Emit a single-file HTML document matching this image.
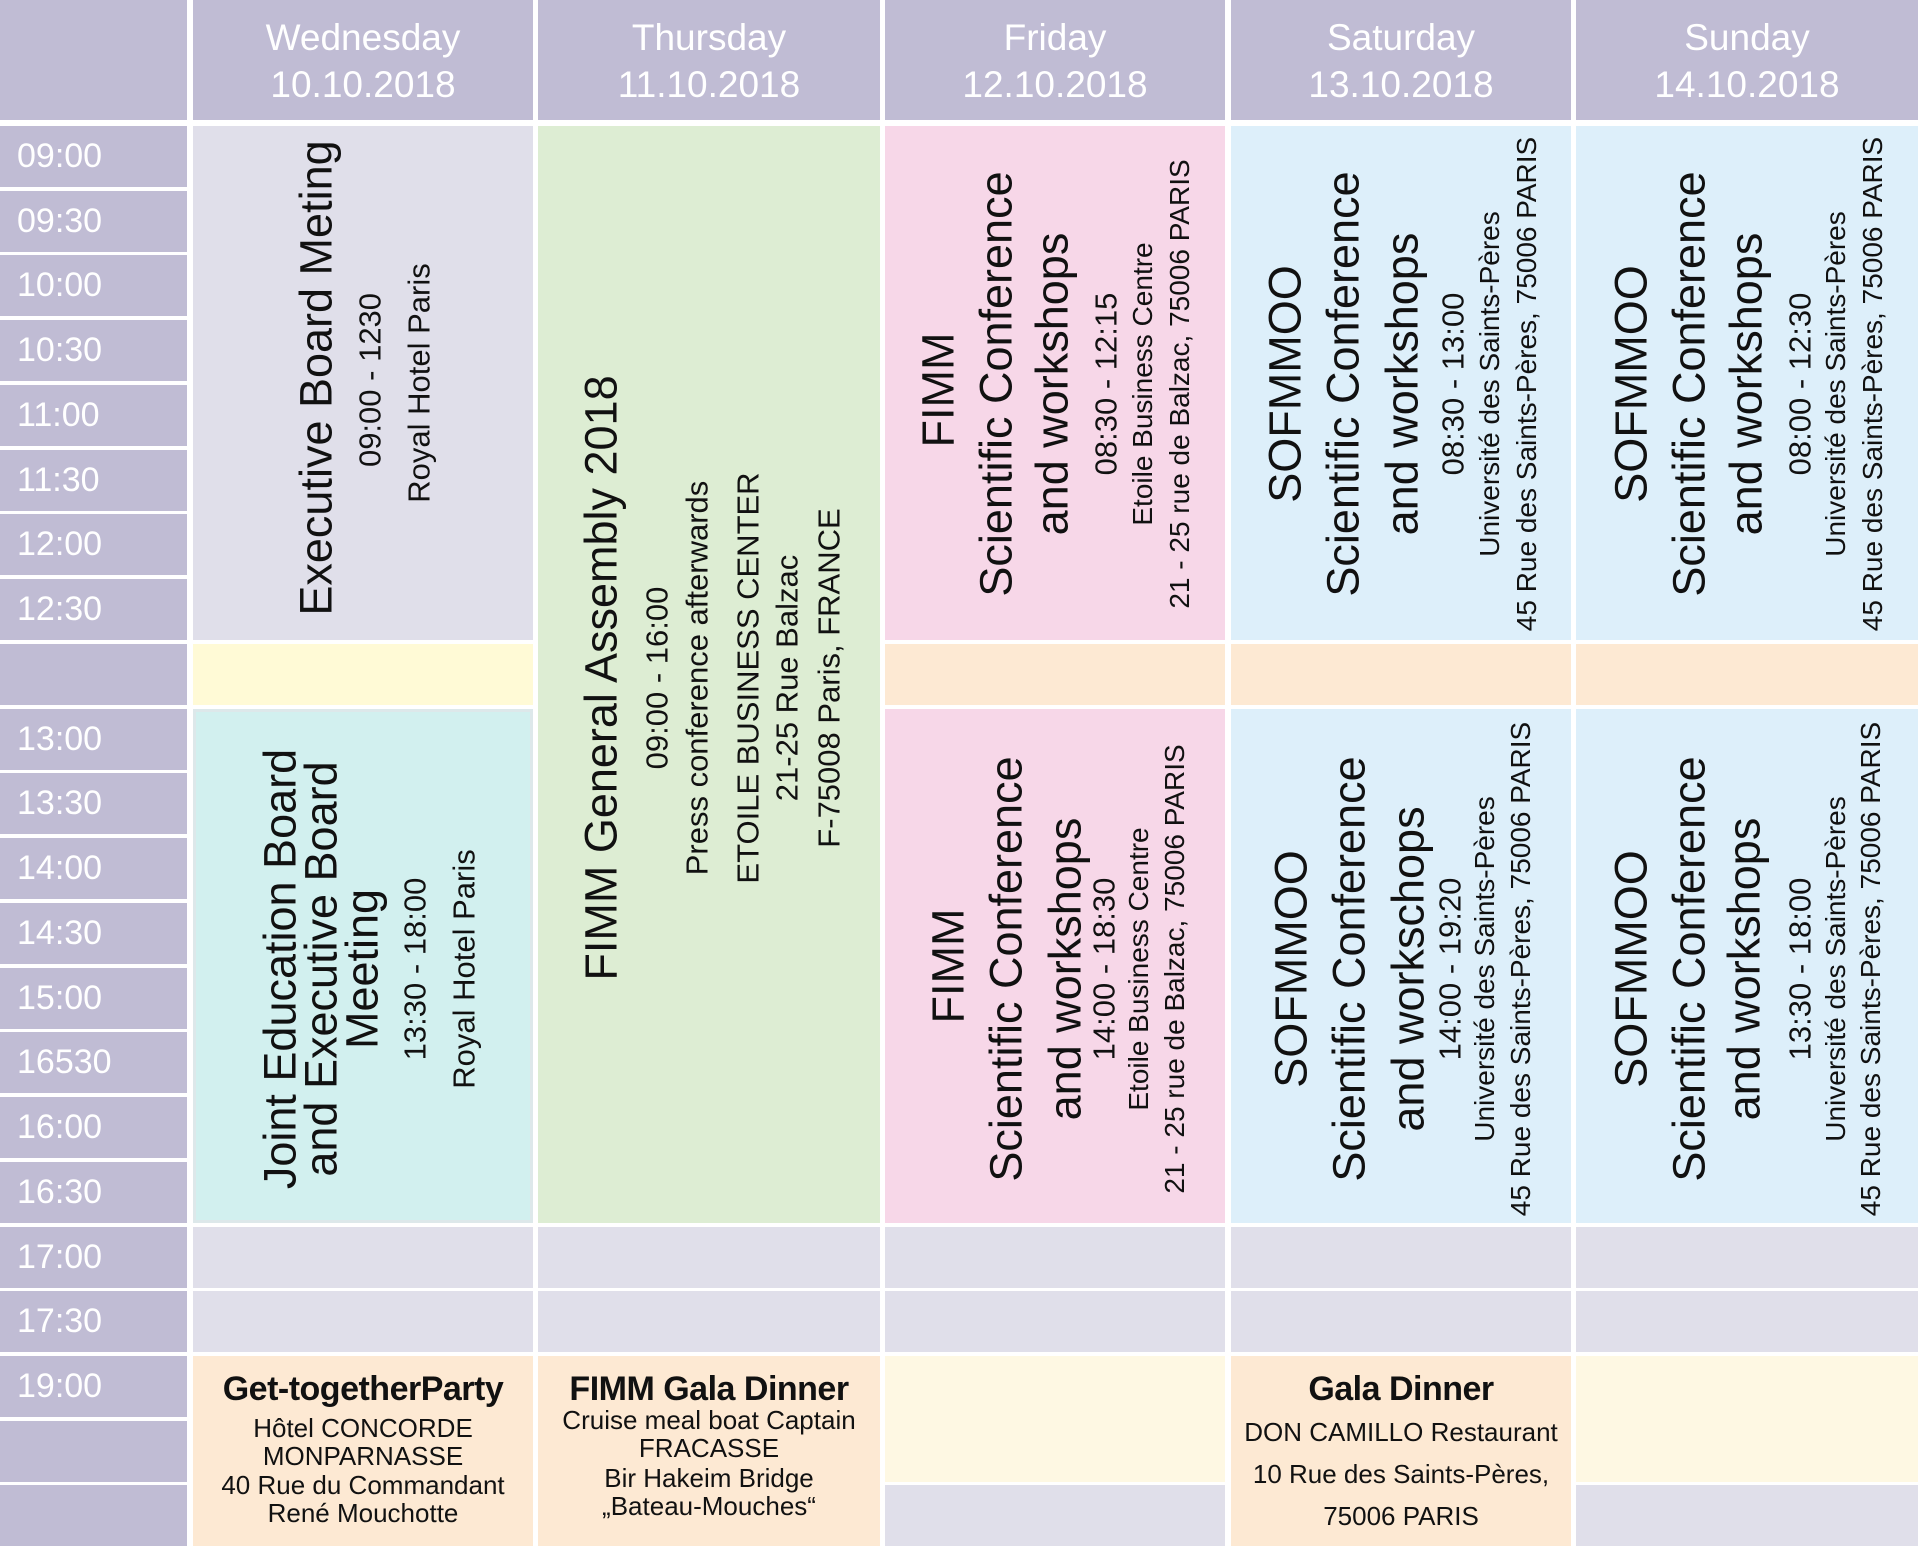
<!DOCTYPE html>
<html><head><meta charset="utf-8">
<style>
html,body{margin:0;padding:0;background:#fff;}
#p{position:relative;width:1918px;height:1552px;overflow:hidden;background:#fff;font-family:"Liberation Sans",sans-serif;color:#111;}
.b{position:absolute;}
.h{background:#c0bcd4;color:#fff;text-align:center;font-size:37px;line-height:47px;padding-top:14px;box-sizing:border-box;}
.t{background:#c0bcd4;color:#fff;font-size:34px;box-sizing:border-box;padding-left:17px;line-height:61px;left:0;width:187px;height:61px;}
.lav{background:#e0dfea;} .yel{background:#fffad6;} .cy{background:#d2f0ef;} .gr{background:#ddedd3;}
.pk{background:#f7d7e8;} .bl{background:#ddeffa;} .pe{background:#fde9d3;} .ly{background:#fef8e3;}
.v{position:absolute;transform:translate(-50%,-50%) rotate(-90deg);white-space:nowrap;line-height:1;}
.L{font-size:45px;} .S{font-size:28px;} .M{font-size:31px;} .T{font-size:31px;}
.c{position:absolute;transform:translate(-50%,-50%);white-space:nowrap;line-height:1;font-size:26px;}
.bold{font-weight:bold;font-size:34px;letter-spacing:-0.5px;}
</style></head><body><div id="p">
<div class="b h" style="left:0;top:0;width:187px;height:120px"></div>
<div class="b h" style="left:193px;top:0;width:340px;height:120px">Wednesday<br>10.10.2018</div>
<div class="b h" style="left:538px;top:0;width:342px;height:120px">Thursday<br>11.10.2018</div>
<div class="b h" style="left:885px;top:0;width:340px;height:120px">Friday<br>12.10.2018</div>
<div class="b h" style="left:1231px;top:0;width:340px;height:120px">Saturday<br>13.10.2018</div>
<div class="b h" style="left:1576px;top:0;width:342px;height:120px">Sunday<br>14.10.2018</div>
<div class="b t" style="top:126px">09:00</div>
<div class="b t" style="top:191px">09:30</div>
<div class="b t" style="top:255px">10:00</div>
<div class="b t" style="top:320px">10:30</div>
<div class="b t" style="top:385px">11:00</div>
<div class="b t" style="top:450px">11:30</div>
<div class="b t" style="top:514px">12:00</div>
<div class="b t" style="top:579px">12:30</div>
<div class="b t" style="top:644px"></div>
<div class="b t" style="top:709px">13:00</div>
<div class="b t" style="top:773px">13:30</div>
<div class="b t" style="top:838px">14:00</div>
<div class="b t" style="top:903px">14:30</div>
<div class="b t" style="top:968px">15:00</div>
<div class="b t" style="top:1032px">16530</div>
<div class="b t" style="top:1097px">16:00</div>
<div class="b t" style="top:1162px">16:30</div>
<div class="b t" style="top:1227px">17:00</div>
<div class="b t" style="top:1291px">17:30</div>
<div class="b t" style="top:1356px">19:00</div>
<div class="b t" style="top:1421px"></div>
<div class="b t" style="top:1485px"></div>
<div class="b lav" style="left:193px;top:126px;width:340px;height:514px"></div>
<div class="b yel" style="left:193px;top:644px;width:340px;height:61px"></div>
<div class="b cy" style="left:193px;top:709px;width:340px;height:514px;box-shadow:inset 0 0 0 3px #dde8ea"></div>
<div class="b lav" style="left:193px;top:1227px;width:340px;height:61px"></div>
<div class="b lav" style="left:193px;top:1291px;width:340px;height:61px"></div>
<div class="b pe" style="left:193px;top:1356px;width:340px;height:190px"></div>
<div class="b gr" style="left:538px;top:126px;width:342px;height:1097px"></div>
<div class="b lav" style="left:538px;top:1227px;width:342px;height:61px"></div>
<div class="b lav" style="left:538px;top:1291px;width:342px;height:61px"></div>
<div class="b pe" style="left:538px;top:1356px;width:342px;height:190px"></div>
<div class="b pk" style="left:885px;top:126px;width:340px;height:514px"></div>
<div class="b pe" style="left:885px;top:644px;width:340px;height:61px"></div>
<div class="b pk" style="left:885px;top:709px;width:340px;height:514px"></div>
<div class="b lav" style="left:885px;top:1227px;width:340px;height:61px"></div>
<div class="b lav" style="left:885px;top:1291px;width:340px;height:61px"></div>
<div class="b ly" style="left:885px;top:1356px;width:340px;height:126px"></div>
<div class="b lav" style="left:885px;top:1485px;width:340px;height:61px"></div>
<div class="b bl" style="left:1231px;top:126px;width:340px;height:514px"></div>
<div class="b pe" style="left:1231px;top:644px;width:340px;height:61px"></div>
<div class="b bl" style="left:1231px;top:709px;width:340px;height:514px"></div>
<div class="b lav" style="left:1231px;top:1227px;width:340px;height:61px"></div>
<div class="b lav" style="left:1231px;top:1291px;width:340px;height:61px"></div>
<div class="b pe" style="left:1231px;top:1356px;width:340px;height:190px"></div>
<div class="b bl" style="left:1576px;top:126px;width:342px;height:514px"></div>
<div class="b pe" style="left:1576px;top:644px;width:342px;height:61px"></div>
<div class="b bl" style="left:1576px;top:709px;width:342px;height:514px"></div>
<div class="b lav" style="left:1576px;top:1227px;width:342px;height:61px"></div>
<div class="b lav" style="left:1576px;top:1291px;width:342px;height:61px"></div>
<div class="b ly" style="left:1576px;top:1356px;width:342px;height:126px"></div>
<div class="b lav" style="left:1576px;top:1485px;width:342px;height:61px"></div>

<div class="v L" style="left:316px;top:378px">Executive Board Meting</div>
<div class="v T" style="left:370px;top:380px">09:00 - 1230</div>
<div class="v M" style="left:419px;top:383px">Royal Hotel Paris</div>
<div class="v L" style="left:280px;top:969px">Joint Education Board</div>
<div class="v L" style="left:321px;top:969px">and Executive Board</div>
<div class="v L" style="left:362px;top:969px">Meeting</div>
<div class="v T" style="left:415px;top:969px">13:30 - 18:00</div>
<div class="v M" style="left:464px;top:969px">Royal Hotel Paris</div>
<div class="v L" style="left:601px;top:678px">FIMM General Assembly 2018</div>
<div class="v T" style="left:657px;top:678px">09:00 - 16:00</div>
<div class="v M" style="left:697px;top:678px">Press conference afterwards</div>
<div class="v M" style="left:748px;top:678px">ETOILE BUSINESS CENTER</div>
<div class="v M" style="left:787px;top:678px">21-25 Rue Balzac</div>
<div class="v M" style="left:829px;top:678px">F-75008 Paris, FRANCE</div>
<div class="v L" style="left:938px;top:390px">FIMM</div>
<div class="v L" style="left:996px;top:384px">Scientific Conference</div>
<div class="v L" style="left:1052px;top:384px">and workshops</div>
<div class="v T" style="left:1106px;top:384px">08:30 - 12:15</div>
<div class="v S" style="left:1143px;top:384px">Etoile Business Centre</div>
<div class="v S" style="left:1180px;top:384px">21 - 25 rue de Balzac, 75006 PARIS</div>
<div class="v L" style="left:948px;top:966px">FIMM</div>
<div class="v L" style="left:1006px;top:969px">Scientific Conference</div>
<div class="v L" style="left:1065px;top:969px">and workshops</div>
<div class="v T" style="left:1104px;top:969px">14:00 - 18:30</div>
<div class="v S" style="left:1139px;top:969px">Etoile Business Centre</div>
<div class="v S" style="left:1175px;top:969px">21 - 25 rue de Balzac, 75006 PARIS</div>
<div class="v L" style="left:1285px;top:384px">SOFMMOO</div>
<div class="v L" style="left:1343px;top:384px">Scientific Conference</div>
<div class="v L" style="left:1402px;top:384px">and workshops</div>
<div class="v T" style="left:1453px;top:384px">08:30 - 13:00</div>
<div class="v S" style="left:1490px;top:384px">Université des Saints-Pères</div>
<div class="v S" style="left:1527px;top:384px">45 Rue des Saints-Pères, 75006 PARIS</div>
<div class="v L" style="left:1291px;top:969px">SOFMMOO</div>
<div class="v L" style="left:1349px;top:969px">Scientific Conference</div>
<div class="v L" style="left:1408px;top:969px">and workschops</div>
<div class="v T" style="left:1450px;top:969px">14:00 - 19:20</div>
<div class="v S" style="left:1485px;top:969px">Université des Saints-Pères</div>
<div class="v S" style="left:1521px;top:969px">45 Rue des Saints-Pères, 75006 PARIS</div>
<div class="v L" style="left:1631px;top:384px">SOFMMOO</div>
<div class="v L" style="left:1689px;top:384px">Scientific Conference</div>
<div class="v L" style="left:1746px;top:384px">and workshops</div>
<div class="v T" style="left:1800px;top:384px">08:00 - 12:30</div>
<div class="v S" style="left:1836px;top:384px">Université des Saints-Pères</div>
<div class="v S" style="left:1873px;top:384px">45 Rue des Saints-Pères, 75006 PARIS</div>
<div class="v L" style="left:1631px;top:969px">SOFMMOO</div>
<div class="v L" style="left:1689px;top:969px">Scientific Conference</div>
<div class="v L" style="left:1744px;top:969px">and workshops</div>
<div class="v T" style="left:1800px;top:969px">13:30 - 18:00</div>
<div class="v S" style="left:1836px;top:969px">Université des Saints-Pères</div>
<div class="v S" style="left:1871px;top:969px">45 Rue des Saints-Pères, 75006 PARIS</div>
<div class="c bold" style="left:363px;top:1389px">Get-togetherParty</div>
<div class="c" style="left:363px;top:1428px">Hôtel CONCORDE</div>
<div class="c" style="left:363px;top:1456px">MONPARNASSE</div>
<div class="c" style="left:363px;top:1485px">40 Rue du Commandant</div>
<div class="c" style="left:363px;top:1513px">René Mouchotte</div>
<div class="c bold" style="left:709px;top:1389px">FIMM Gala Dinner</div>
<div class="c" style="left:709px;top:1420px">Cruise meal boat Captain</div>
<div class="c" style="left:709px;top:1448px">FRACASSE</div>
<div class="c" style="left:709px;top:1478px">Bir Hakeim Bridge</div>
<div class="c" style="left:709px;top:1506px">„Bateau-Mouches“</div>
<div class="c bold" style="left:1401px;top:1389px">Gala Dinner</div>
<div class="c" style="left:1401px;top:1432px">DON CAMILLO Restaurant</div>
<div class="c" style="left:1401px;top:1474px">10 Rue des Saints-Pères,</div>
<div class="c" style="left:1401px;top:1516px">75006 PARIS</div>
</div></body></html>
